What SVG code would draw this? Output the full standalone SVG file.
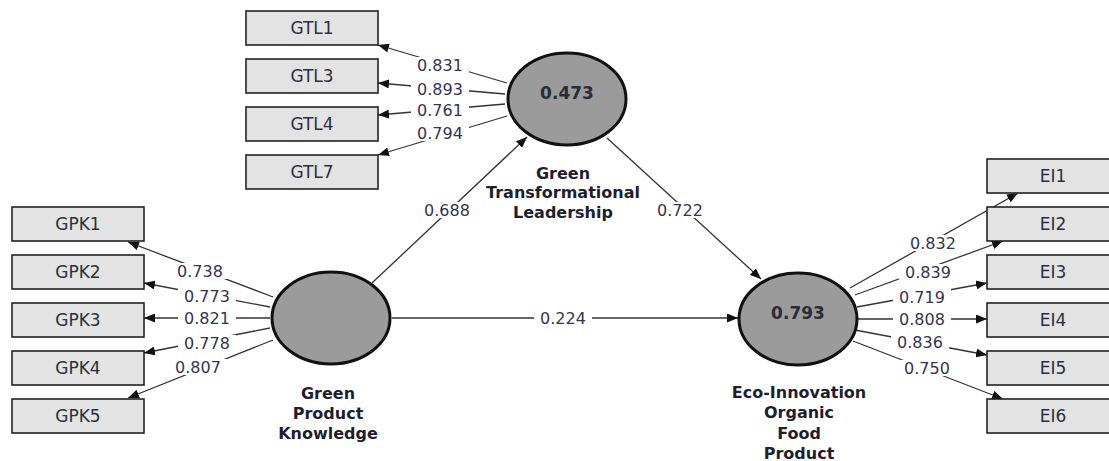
<svg xmlns="http://www.w3.org/2000/svg" width="1109" height="461" viewBox="0 0 1109 461">
<style>
.box{fill:#e3e3e3;stroke:#222;stroke-width:1.6}
.boxt{font-family:"DejaVu Sans",sans-serif;font-size:17px;fill:#2d2f40;text-anchor:middle}
.lv{fill:#9b9b9b;stroke:#111;stroke-width:3}
.lvv{font-family:"DejaVu Sans",sans-serif;font-size:17px;font-weight:bold;fill:#2a2c3a;text-anchor:middle}
.lvn{font-family:"DejaVu Sans",sans-serif;font-size:16px;font-weight:bold;fill:#1e1e2e;text-anchor:middle}
.ln{stroke:#333;stroke-width:1.3;fill:none;marker-end:url(#ah)}
.bg{fill:#fff}
.lab{font-family:"DejaVu Sans",sans-serif;font-size:16px;fill:#33354f;text-anchor:middle}
</style>
<defs>
<marker id="ah" markerUnits="userSpaceOnUse" markerWidth="11" markerHeight="9" refX="11" refY="4.5" orient="auto">
<path d="M0,0 L11,4.5 L0,9 z" fill="#111"/>
</marker>
</defs>
<rect width="1109" height="461" fill="#fff"/>
<g id="connectors">
<line class="ln" x1="507" y1="83" x2="378" y2="45"/>
<line class="ln" x1="505" y1="94" x2="378" y2="83"/>
<line class="ln" x1="505" y1="104" x2="378" y2="115"/>
<line class="ln" x1="507" y1="116" x2="378" y2="155"/>
<line class="ln" x1="273" y1="297" x2="128" y2="242"/>
<line class="ln" x1="270" y1="307" x2="144" y2="283"/>
<line class="ln" x1="270" y1="318" x2="144" y2="318"/>
<line class="ln" x1="270" y1="328" x2="144" y2="353"/>
<line class="ln" x1="273" y1="340" x2="128" y2="398"/>
<line class="ln" x1="850" y1="288" x2="1018" y2="193"/>
<line class="ln" x1="855" y1="295" x2="1003" y2="241"/>
<line class="ln" x1="857" y1="307" x2="987" y2="283"/>
<line class="ln" x1="857" y1="319" x2="987" y2="319"/>
<line class="ln" x1="855" y1="330" x2="987" y2="355"/>
<line class="ln" x1="853" y1="341" x2="1003" y2="399"/>
<line class="ln" x1="372" y1="283" x2="527" y2="137"/>
<line class="ln" x1="607" y1="138" x2="761" y2="279"/>
<line class="ln" x1="392" y1="318" x2="738" y2="318"/>
<rect class="bg" x="411" y="57" width="58" height="16"/><text class="lab" x="440" y="71">0.831</text>
<rect class="bg" x="411" y="81" width="58" height="16"/><text class="lab" x="440" y="95">0.893</text>
<rect class="bg" x="411" y="102" width="58" height="16"/><text class="lab" x="440" y="116">0.761</text>
<rect class="bg" x="411" y="125" width="58" height="16"/><text class="lab" x="440" y="139">0.794</text>
<rect class="bg" x="171" y="263" width="58" height="16"/><text class="lab" x="200" y="277">0.738</text>
<rect class="bg" x="178" y="288" width="58" height="16"/><text class="lab" x="207" y="302">0.773</text>
<rect class="bg" x="178" y="310" width="58" height="16"/><text class="lab" x="207" y="324">0.821</text>
<rect class="bg" x="178" y="335" width="58" height="16"/><text class="lab" x="207" y="349">0.778</text>
<rect class="bg" x="169" y="359" width="58" height="16"/><text class="lab" x="198" y="373">0.807</text>
<rect class="bg" x="904" y="235" width="58" height="16"/><text class="lab" x="933" y="249">0.832</text>
<rect class="bg" x="899" y="264" width="58" height="16"/><text class="lab" x="928" y="278">0.839</text>
<rect class="bg" x="893" y="289" width="58" height="16"/><text class="lab" x="922" y="303">0.719</text>
<rect class="bg" x="893" y="311" width="58" height="16"/><text class="lab" x="922" y="325">0.808</text>
<rect class="bg" x="891" y="334" width="58" height="16"/><text class="lab" x="920" y="348">0.836</text>
<rect class="bg" x="898" y="360" width="58" height="16"/><text class="lab" x="927" y="374">0.750</text>
<rect class="bg" x="418" y="202" width="58" height="16"/><text class="lab" x="447" y="216">0.688</text>
<rect class="bg" x="651" y="202" width="58" height="16"/><text class="lab" x="680" y="216">0.722</text>
<rect class="bg" x="534" y="310" width="58" height="16"/><text class="lab" x="563" y="324">0.224</text>
</g>
<g id="GTL1"><rect class="box" x="246" y="11" width="132" height="34"/><text class="boxt" x="312" y="34">GTL1</text></g>
<g id="GTL3"><rect class="box" x="246" y="59" width="132" height="34"/><text class="boxt" x="312" y="82">GTL3</text></g>
<g id="GTL4"><rect class="box" x="246" y="107" width="132" height="34"/><text class="boxt" x="312" y="130">GTL4</text></g>
<g id="GTL7"><rect class="box" x="246" y="155" width="132" height="34"/><text class="boxt" x="312" y="178">GTL7</text></g>
<g id="GPK1"><rect class="box" x="12" y="207" width="132" height="34"/><text class="boxt" x="78" y="230">GPK1</text></g>
<g id="GPK2"><rect class="box" x="12" y="255" width="132" height="34"/><text class="boxt" x="78" y="278">GPK2</text></g>
<g id="GPK3"><rect class="box" x="12" y="303" width="132" height="34"/><text class="boxt" x="78" y="326">GPK3</text></g>
<g id="GPK4"><rect class="box" x="12" y="351" width="132" height="34"/><text class="boxt" x="78" y="374">GPK4</text></g>
<g id="GPK5"><rect class="box" x="12" y="399" width="132" height="34"/><text class="boxt" x="78" y="422">GPK5</text></g>
<g id="EI1"><rect class="box" x="987" y="159" width="132" height="34"/><text class="boxt" x="1053" y="182">EI1</text></g>
<g id="EI2"><rect class="box" x="987" y="207" width="132" height="34"/><text class="boxt" x="1053" y="230">EI2</text></g>
<g id="EI3"><rect class="box" x="987" y="255" width="132" height="34"/><text class="boxt" x="1053" y="278">EI3</text></g>
<g id="EI4"><rect class="box" x="987" y="303" width="132" height="34"/><text class="boxt" x="1053" y="326">EI4</text></g>
<g id="EI5"><rect class="box" x="987" y="351" width="132" height="34"/><text class="boxt" x="1053" y="374">EI5</text></g>
<g id="EI6"><rect class="box" x="987" y="399" width="132" height="34"/><text class="boxt" x="1053" y="422">EI6</text></g>
<g id="GTL">
<ellipse class="lv" cx="567" cy="99" rx="59" ry="46"/>
<text class="lvv" x="567" y="99">0.473</text>
<text class="lvn" x="563" y="179">Green</text>
<text class="lvn" x="563" y="198">Transformational</text>
<text class="lvn" x="563" y="218">Leadership</text>
</g>
<g id="GPK">
<ellipse class="lv" cx="331" cy="318" rx="59" ry="46"/>
<text class="lvn" x="328" y="399">Green</text>
<text class="lvn" x="328" y="419">Product</text>
<text class="lvn" x="328" y="439">Knowledge</text>
</g>
<g id="EI">
<ellipse class="lv" cx="798" cy="319" rx="59" ry="46"/>
<text class="lvv" x="798" y="319">0.793</text>
<text class="lvn" x="799" y="398">Eco-Innovation</text>
<text class="lvn" x="799" y="418">Organic</text>
<text class="lvn" x="799" y="439">Food</text>
<text class="lvn" x="799" y="459">Product</text>
</g>
</svg>
